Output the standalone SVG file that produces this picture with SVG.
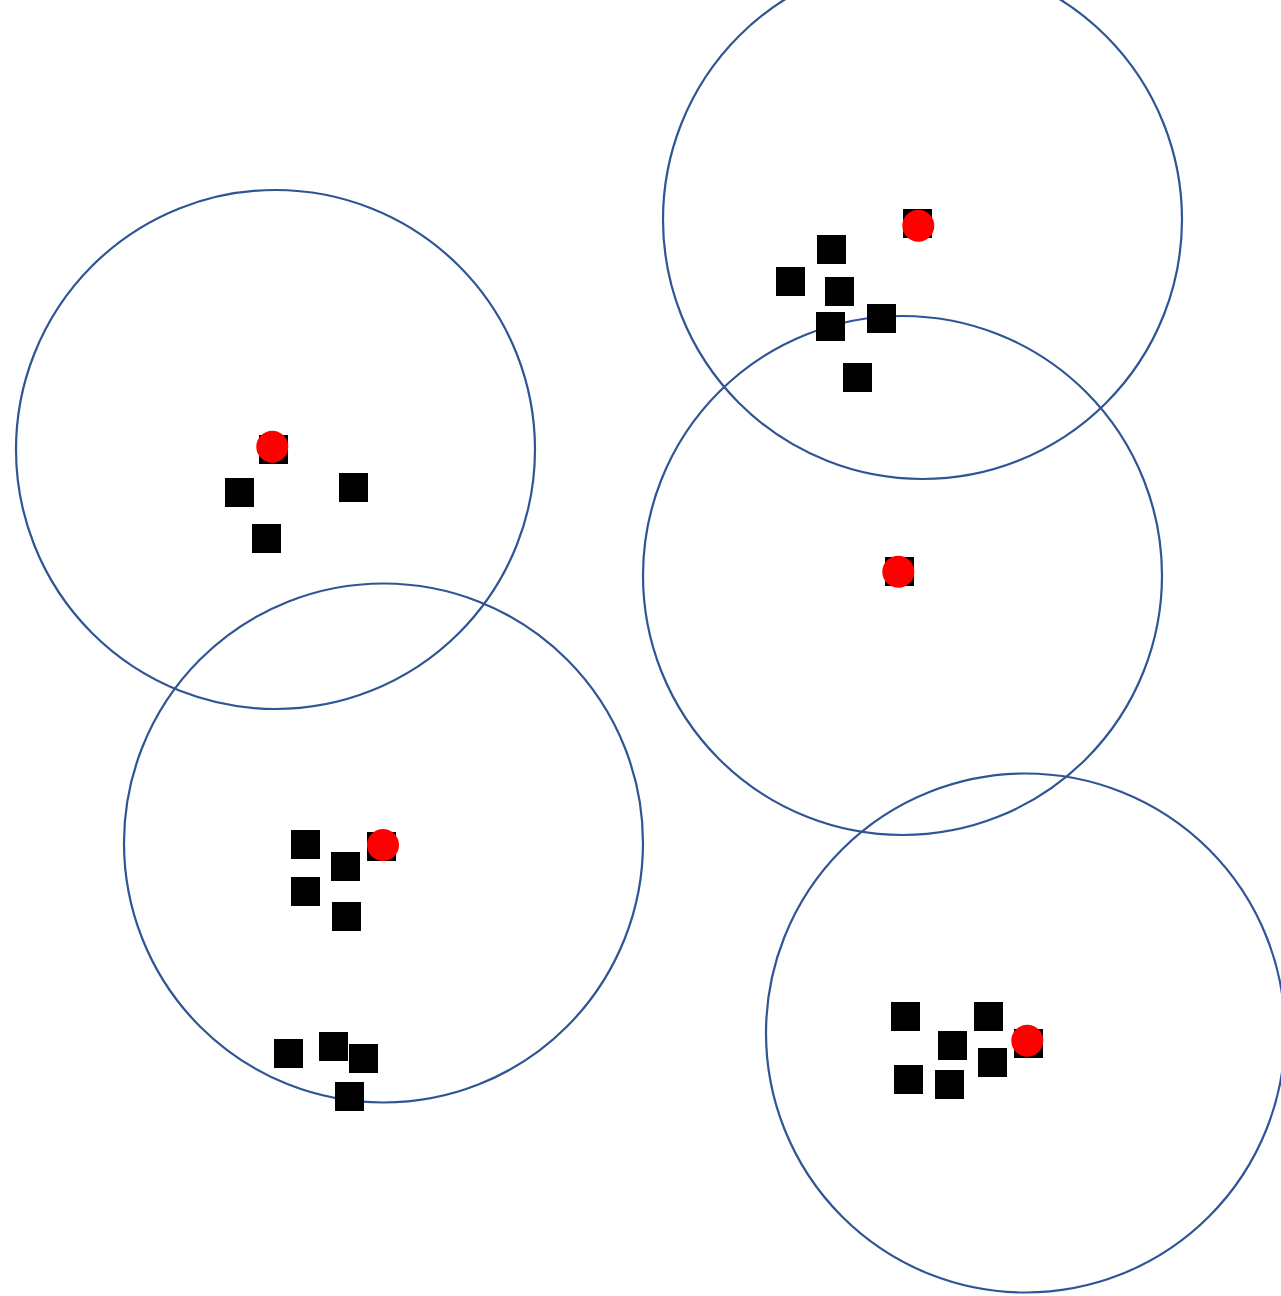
<svg xmlns="http://www.w3.org/2000/svg" width="1281" height="1296" viewBox="0 0 1281 1296">
<style>
.c{fill:none;stroke:#2F5597;stroke-width:2.2}
.s{fill:#000}
.r{fill:#FF0000}
</style>
<rect width="1281" height="1296" fill="#fff"/>
<g id="circles">
<circle class="c" cx="275.5" cy="449.5" r="259.5"/>
<circle class="c" cx="383.5" cy="843" r="259.5"/>
<circle class="c" cx="922.5" cy="219.5" r="259.5"/>
<circle class="c" cx="902.5" cy="575.5" r="259.5"/>
<circle class="c" cx="1025.5" cy="1033" r="259.5"/>
</g>
<g id="squares">
<rect class="s" x="903" y="209" width="29" height="29"/>
<rect class="s" x="817" y="235" width="29" height="29"/>
<rect class="s" x="776" y="267" width="29" height="29"/>
<rect class="s" x="825" y="277" width="29" height="29"/>
<rect class="s" x="816" y="312" width="29" height="29"/>
<rect class="s" x="867" y="304" width="29" height="29"/>
<rect class="s" x="843" y="363" width="29" height="29"/>
<rect class="s" x="259" y="435" width="29" height="29"/>
<rect class="s" x="225" y="478" width="29" height="29"/>
<rect class="s" x="339" y="473" width="29" height="29"/>
<rect class="s" x="252" y="524" width="29" height="29"/>
<rect class="s" x="291" y="830" width="29" height="29"/>
<rect class="s" x="331" y="852" width="29" height="29"/>
<rect class="s" x="367" y="832" width="29" height="29"/>
<rect class="s" x="291" y="877" width="29" height="29"/>
<rect class="s" x="332" y="902" width="29" height="29"/>
<rect class="s" x="274" y="1039" width="29" height="29"/>
<rect class="s" x="319" y="1032" width="29" height="29"/>
<rect class="s" x="349" y="1044" width="29" height="29"/>
<rect class="s" x="335" y="1082" width="29" height="29"/>
<rect class="s" x="891" y="1002" width="29" height="29"/>
<rect class="s" x="974" y="1002" width="29" height="29"/>
<rect class="s" x="938" y="1031" width="29" height="29"/>
<rect class="s" x="1014" y="1029" width="29" height="29"/>
<rect class="s" x="978" y="1048" width="29" height="29"/>
<rect class="s" x="894" y="1065" width="29" height="29"/>
<rect class="s" x="935" y="1070" width="29" height="29"/>
<rect class="s" x="885" y="557" width="29" height="29"/>
</g>
<g id="centroids">
<circle class="r" cx="918.3" cy="225.7" r="16"/>
<circle class="r" cx="272.3" cy="446.7" r="16"/>
<circle class="r" cx="383" cy="845" r="16"/>
<circle class="r" cx="1027.3" cy="1040.7" r="16"/>
<circle class="r" cx="898.3" cy="571.7" r="16"/>
</g>
</svg>
